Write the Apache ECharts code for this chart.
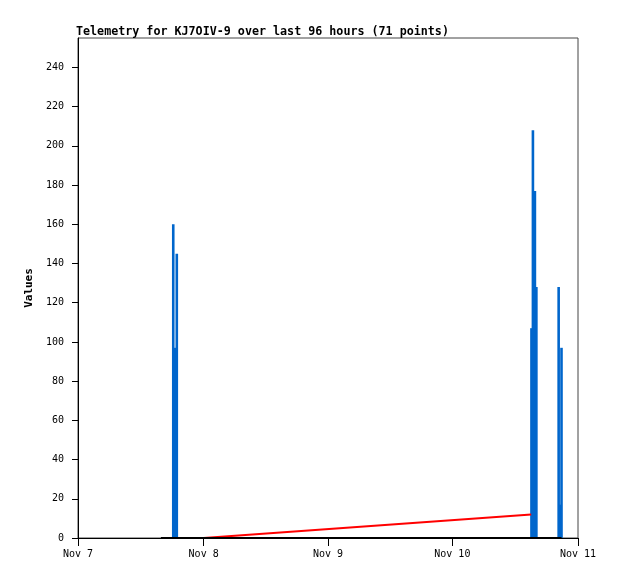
<!DOCTYPE html>
<html>
<head>
<meta charset="utf-8">
<script src="https://cdn.jsdelivr.net/npm/echarts@6/dist/echarts.min.js"></script>
<style>
html,body{margin:0;padding:0;background:#fff;}
#chart{width:618px;height:579px;}
</style>
</head>
<body>
<div id="chart"></div>
<script>
// Data
var titleText = 'Telemetry for KJ7OIV-9 over last 96 hours (71 points)';
var yTickValues = [0, 20, 40, 60, 80, 100, 120, 140, 160, 180, 200, 220, 240];
var xTickDates = ['2023-11-07 00:00', '2023-11-08 00:00', '2023-11-09 00:00', '2023-11-10 00:00', '2023-11-11 00:00'];
var xTickLabels = ['Nov 7', 'Nov 8', 'Nov 9', 'Nov 10', 'Nov 11'];

var blueTimes = ['2023-11-07 18:08', '2023-11-07 18:28', '2023-11-07 18:49',
                 '2023-11-10 15:16', '2023-11-10 15:33', '2023-11-10 15:47', '2023-11-10 15:56', '2023-11-10 16:13',
                 '2023-11-10 20:31', '2023-11-10 20:44', '2023-11-10 21:04'];
var blueValues = [160, 97, 145, 107, 208, 3, 177, 128, 128, 17, 97];

var redTimes = ['2023-11-08 00:00', '2023-11-10 15:13'];
var redValues = [0, 12];

var blackTimes = ['2023-11-07 15:45', '2023-11-10 21:05'];
var blackValues = [0, 0];

function toTs(s) {
  var p = s.split(/[- :]/);
  return new Date(+p[0], +p[1] - 1, +p[2], +p[3], +p[4]).getTime();
}
function pairs(times, vals) {
  return times.map(function (t, i) { return [toTs(t), vals[i]]; });
}
var DAY = 86400000;
var xMin = toTs(xTickDates[0]);
var xMax = toTs(xTickDates[xTickDates.length - 1]);

var chart = echarts.init(document.getElementById('chart'), null, {renderer: 'canvas'});
var mono = 'DejaVu Sans Mono';
chart.setOption({
  backgroundColor: '#ffffff',
  animation: false,
  title: {
    text: titleText,
    left: 76,
    top: 26,
    padding: 0,
    textStyle: {fontFamily: mono, fontSize: 11.7, fontWeight: 'bold', color: '#000'}
  },
  grid: {
    left: 78, top: 38, width: 500, height: 500,
    show: true, borderColor: '#444', borderWidth: 1, backgroundColor: 'transparent'
  },
  xAxis: {
    type: 'time',
    min: xMin,
    max: xMax,
    minInterval: DAY,
    maxInterval: DAY,
    splitLine: {show: false},
    axisLine: {show: true, lineStyle: {color: '#000', width: 1}},
    axisTick: {show: true, length: 8, lineStyle: {color: '#000'}},
    axisLabel: {
      margin: 11,
      showMinLabel: true, showMaxLabel: true,
      hideOverlap: false,
      fontFamily: mono, fontSize: 10, color: '#000',
      formatter: function (v) {
        var i = Math.round((v - xMin) / DAY);
        return xTickLabels[i] || '';
      }
    }
  },
  yAxis: {
    type: 'value',
    min: 0, max: 255,
    name: 'Values',
    nameLocation: 'middle',
    nameGap: 38,
    nameRotate: 90,
    nameTextStyle: {fontFamily: mono, fontSize: 11, fontWeight: 'bold', color: '#000'},
    splitLine: {show: false},
    axisLine: {show: true, lineStyle: {color: '#000', width: 1}},
    axisTick: {show: true, length: 6, lineStyle: {color: '#000'}, customValues: yTickValues},
    axisLabel: {customValues: yTickValues, margin: 14, fontFamily: mono, fontSize: 10, color: '#000'}
  },
  series: [
    {
      type: 'bar',
      data: pairs(blueTimes, blueValues),
      barWidth: 2.6,
      barGap: '-100%',
      itemStyle: {color: '#0066cc'},
      z: 2
    },
    {
      type: 'line',
      data: pairs(redTimes, redValues),
      showSymbol: false,
      lineStyle: {color: '#ff0000', width: 2},
      z: 3
    },
    {
      type: 'line',
      data: pairs(blackTimes, blackValues),
      showSymbol: false,
      lineStyle: {color: '#000000', width: 2},
      z: 4
    }
  ]
});
</script>
</body>
</html>
